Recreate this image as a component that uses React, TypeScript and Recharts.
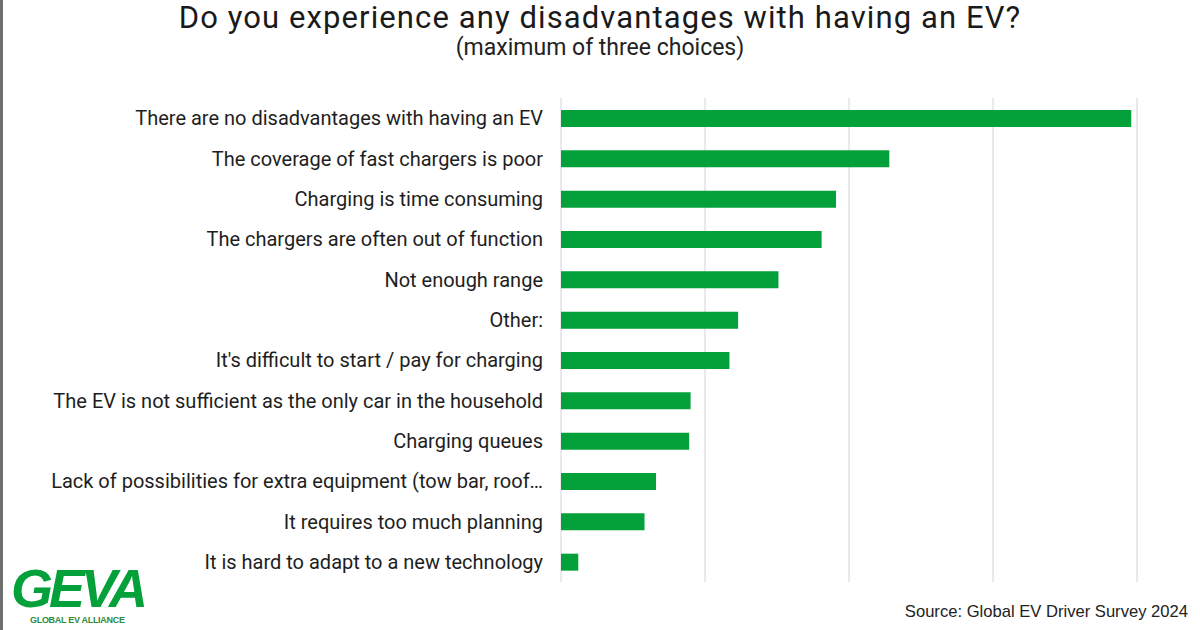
import { Bar, BarChart, CartesianGrid, XAxis, YAxis } from "recharts";

const categories = [
  "There are no disadvantages with having an EV",
  "The coverage of fast chargers is poor",
  "Charging is time consuming",
  "The chargers are often out of function",
  "Not enough range",
  "Other:",
  "It's difficult to start / pay for charging",
  "The EV is not sufficient as the only car in the household",
  "Charging queues",
  "Lack of possibilities for extra equipment (tow bar, roof…",
  "It requires too much planning",
  "It is hard to adapt to a new technology",
];

const shares = [39.6, 22.8, 19.1, 18.1, 15.1, 12.3, 11.7, 9.0, 8.9, 6.6, 5.8, 1.2];

const xTicks = [0, 10, 20, 30, 40];

const data = categories.map((name, i) => ({ name, value: shares[i] }));

const GREEN = "#04a13a";

export default function App() {
  return (
    <div
      style={{
        position: "absolute",
        left: 0,
        top: 0,
        width: 1200,
        height: 630,
        background: "#fff",
        fontFamily: "Roboto, 'Liberation Sans', sans-serif",
        overflow: "hidden",
      }}
    >
      <div style={{ position: "absolute", left: 0, top: 0, width: 3, height: 630, background: "#6e6e6e" }} />
      <div
        style={{
          position: "absolute",
          top: 0,
          width: 1200,
          textAlign: "center",
          fontSize: 31,
          letterSpacing: 1.1,
          color: "#1a1a1a",
          lineHeight: "36px",
        }}
      >
        Do you experience any disadvantages with having an EV?
      </div>
      <div
        style={{
          position: "absolute",
          top: 36,
          width: 1200,
          textAlign: "center",
          fontSize: 23,
          color: "#222",
          lineHeight: "24px",
        }}
      >
        (maximum of three choices)
      </div>
      <BarChart
        width={1200}
        height={630}
        data={data}
        layout="vertical"
        margin={{ top: 98, right: 63, bottom: 48, left: 0 }}
      >
        <CartesianGrid horizontal={false} stroke="#d4d4dc" />
        <XAxis type="number" domain={[0, 40]} ticks={xTicks} hide />
        <YAxis
          type="category"
          dataKey="name"
          width={561}
          tickSize={0}
          tickMargin={18}
          axisLine={false}
          tickLine={false}
          interval={0}
          tick={{ fill: "#1e1e1e", fontSize: 20, fontFamily: "Roboto, sans-serif" }}
        />
        <Bar dataKey="value" fill={GREEN} barSize={17} isAnimationActive={false} />
      </BarChart>
      <div
        style={{
          position: "absolute",
          left: 11,
          top: 566,
          fontSize: 54,
          fontWeight: 900,
          fontStyle: "italic",
          color: GREEN,
          letterSpacing: -4,
          lineHeight: "44px",
          fontFamily: "'Liberation Sans', Arial, sans-serif",
        }}
      >
        GEVA
      </div>
      <div
        style={{
          position: "absolute",
          left: 30,
          top: 615,
          fontSize: 9,
          fontWeight: 700,
          color: "#2f8a3a",
          letterSpacing: -0.3,
          lineHeight: "10px",
          fontFamily: "'Liberation Sans', Arial, sans-serif",
        }}
      >
        GLOBAL EV ALLIANCE
      </div>
      <div
        style={{
          position: "absolute",
          right: 12,
          top: 602,
          fontSize: 16.6,
          color: "#222",
          fontFamily: "'Liberation Sans', Arial, sans-serif",
        }}
      >
        Source: Global EV Driver Survey 2024
      </div>
    </div>
  );
}
